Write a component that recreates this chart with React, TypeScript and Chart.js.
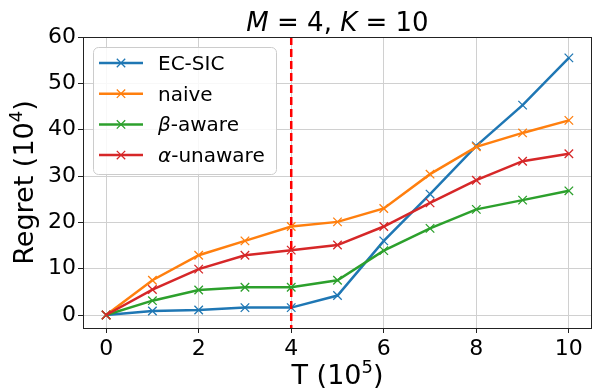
import React, { useEffect, useRef } from 'react';
import { Chart, registerables } from 'chart.js';
Chart.register(...registerables);

const T = [0, 1, 2, 3, 4, 5, 6, 7, 8, 9, 10];
const ecSic = [0, 0.86, 1.1, 1.6, 1.6, 4.2, 16, 26.1, 36.5, 45.3, 55.5];
const naive = [0, 7.5, 12.9, 16, 19.1, 20.1, 23, 30.4, 36.3, 39.3, 42];
const betaAware = [0, 3.1, 5.4, 6, 6, 7.5, 13.9, 18.7, 22.8, 24.8, 26.8];
const alphaUnaware = [0, 5.5, 9.9, 12.9, 14, 15.1, 19.1, 24.2, 29.1, 33.2, 34.8];
const xTicks = [0, 2, 4, 6, 8, 10];
const yTicks = [0, 10, 20, 30, 40, 50, 60];
const seriesNames = ['EC-SIC', 'naive', 'β-aware', 'α-unaware'];
const seriesValues = [ecSic, naive, betaAware, alphaUnaware];
const colors = ['#1f77b4', '#ff7f0e', '#2ca02c', '#d62728'];
const cutoffT = 4;

const FONT = '"DejaVu Sans", sans-serif';

type Seg = { t: string; italic?: boolean; size?: number; dy?: number };

function segFont(s: Seg, base: number) {
  return `${s.italic ? 'italic ' : ''}${s.size ?? base}px ${FONT}`;
}
function measureRich(ctx: CanvasRenderingContext2D, segs: Seg[], base: number) {
  let w = 0;
  for (const s of segs) {
    ctx.font = segFont(s, base);
    w += ctx.measureText(s.t).width;
  }
  return w;
}
function drawRich(ctx: CanvasRenderingContext2D, segs: Seg[], base: number, x: number, y: number, align: 'left' | 'center') {
  let cx = align === 'center' ? x - measureRich(ctx, segs, base) / 2 : x;
  ctx.textAlign = 'left';
  ctx.textBaseline = 'alphabetic';
  for (const s of segs) {
    ctx.font = segFont(s, base);
    ctx.fillText(s.t, cx, y + (s.dy ?? 0));
    cx += ctx.measureText(s.t).width;
  }
}

function labelSegs(name: string): Seg[] {
  const g = name[0];
  if (g === 'β' || g === 'α') return [{ t: g, italic: true }, { t: name.slice(1) }];
  return [{ t: name }];
}

const decorPlugin = {
  id: 'decor',
  afterDatasetsDraw(chart: any) {
    const { ctx, chartArea, scales } = chart;
    const { left, right, top, bottom } = chartArea;
    ctx.save();
    // vertical dashed line
    const xv = scales.x.getPixelForValue(cutoffT);
    ctx.strokeStyle = '#ff0000';
    ctx.lineWidth = 2.5;
    ctx.setLineDash([8, 4]);
    ctx.beginPath();
    ctx.moveTo(xv, top);
    ctx.lineTo(xv, bottom);
    ctx.stroke();
    ctx.setLineDash([]);
    // spines
    ctx.strokeStyle = '#222';
    ctx.lineWidth = 1;
    ctx.strokeRect(Math.round(left) + 0.5, Math.round(top) + 0.5, Math.round(right - left) - 1, Math.round(bottom - top));
    // legend
    const bx = 93, by = 47, bw = 183, bh = 127, r = 5;
    ctx.fillStyle = 'rgba(255,255,255,0.85)';
    ctx.strokeStyle = '#cccccc';
    ctx.lineWidth = 1;
    ctx.beginPath();
    ctx.roundRect(bx + 0.5, by + 0.5, bw, bh, r);
    ctx.fill();
    ctx.stroke();
    seriesNames.forEach((name, i) => {
      const cy = 63 + i * 30.7;
      ctx.strokeStyle = colors[i];
      ctx.lineWidth = 2.5;
      ctx.beginPath();
      ctx.moveTo(99, cy);
      ctx.lineTo(143, cy);
      ctx.stroke();
      ctx.lineWidth = 1.3;
      const m = 4.2;
      ctx.beginPath();
      ctx.moveTo(121 - m, cy - m);
      ctx.lineTo(121 + m, cy + m);
      ctx.moveTo(121 - m, cy + m);
      ctx.lineTo(121 + m, cy - m);
      ctx.stroke();
      ctx.fillStyle = '#000';
      drawRich(ctx, labelSegs(name), 20, 158, cy + 7, 'left');
    });
    ctx.restore();
  },
  afterDraw(chart: any) {
    const { ctx, chartArea } = chart;
    const cx = (chartArea.left + chartArea.right) / 2;
    const cy = (chartArea.top + chartArea.bottom) / 2;
    ctx.save();
    ctx.fillStyle = '#000';
    // title
    drawRich(ctx, [
      { t: 'M', italic: true }, { t: ' = 4, ' }, { t: 'K', italic: true }, { t: ' = 10' },
    ], 26, cx, 31, 'center');
    // x label
    drawRich(ctx, [{ t: 'T (10' }, { t: '5', size: 18, dy: -11 }, { t: ')' }], 27, cx, 384, 'center');
    // y label
    ctx.translate(33, cy);
    ctx.rotate(-Math.PI / 2);
    drawRich(ctx, [{ t: 'Regret (10' }, { t: '4', size: 18, dy: -11 }, { t: ')' }], 27, 0, 0, 'center');
    ctx.restore();
  },
};

export default function App() {
  const ref = useRef<HTMLCanvasElement>(null);
  useEffect(() => {
    document.body.style.margin = '0';
    const chart = new Chart(ref.current!, {
      type: 'line',
      data: {
        datasets: seriesNames.map((name, i) => ({
          label: name,
          data: T.map((t, j) => ({ x: t, y: seriesValues[i][j] })),
          borderColor: colors[i],
          backgroundColor: colors[i],
          borderWidth: 2.5,
          pointStyle: 'crossRot',
          pointRadius: 6,
          pointBorderWidth: 1.3,
          pointBorderColor: colors[i],
          tension: 0,
          fill: false,
          order: 3 - i,
        })),
      },
      options: {
        responsive: false,
        animation: false,
        layout: { autoPadding: false, padding: { top: 37, right: 0, left: 0, bottom: 0 } },
        plugins: { legend: { display: false }, tooltip: { enabled: false }, title: { display: false } },
        scales: {
          x: {
            type: 'linear',
            min: -0.5,
            max: 10.5,
            afterBuildTicks: (s: any) => { s.ticks = xTicks.map((v) => ({ value: v })); },
            afterFit: (s: any) => { s.height = 62; s.paddingLeft = 0; s.paddingRight = 0; },
            grid: { color: '#d0d0d0', lineWidth: 1, tickColor: '#222', tickLength: 5, drawTicks: true },
            border: { display: false },
            ticks: { color: '#000', font: { family: 'DejaVu Sans', size: 22 }, padding: 3, maxRotation: 0, autoSkip: false },
          },
          y: {
            type: 'linear',
            min: -2.8,
            max: 60,
            afterBuildTicks: (s: any) => { s.ticks = yTicks.map((v) => ({ value: v })); },
            afterFit: (s: any) => { s.width = 83; s.paddingTop = 0; s.paddingBottom = 0; },
            grid: { color: '#d0d0d0', lineWidth: 1, tickColor: '#222', tickLength: 5, drawTicks: true },
            border: { display: false },
            ticks: { color: '#000', font: { family: 'DejaVu Sans', size: 22 }, padding: 2, autoSkip: false },
          },
        },
      },
      plugins: [decorPlugin],
    } as any);
    return () => chart.destroy();
  }, []);
  return (
    <div style={{ position: 'absolute', left: 0, top: 0, width: 592, height: 390 }}>
      <canvas ref={ref} width={592} height={390} />
    </div>
  );
}
